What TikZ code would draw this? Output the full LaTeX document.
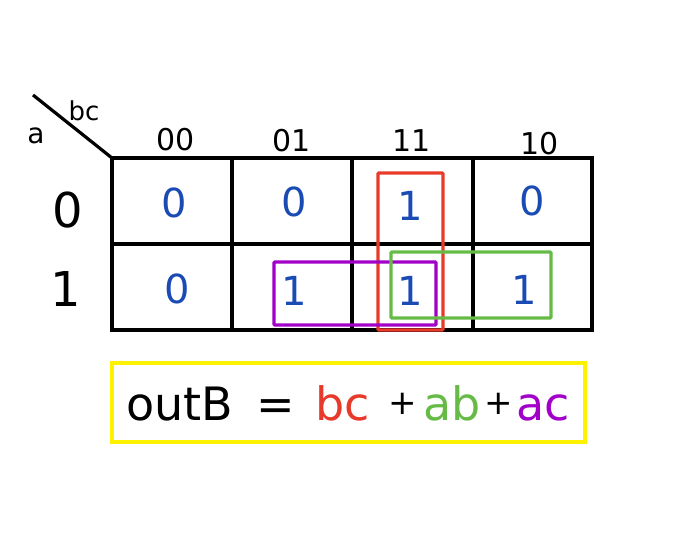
\documentclass[tikz,border=0pt]{standalone}
\usepackage{fontspec}
\setmainfont{DejaVu Sans}
\definecolor{kblue}{HTML}{1A4BB5}
\definecolor{kred}{HTML}{E83A2A}
\definecolor{kgreen}{HTML}{66BB46}
\definecolor{kpurple}{HTML}{A200C8}
\definecolor{kyellow}{HTML}{FFF200}
\begin{document}
\begin{tikzpicture}[x=1pt,y=-1pt,
  grid/.style={line width=3.6pt},
  cellval/.style={text=kblue,font=\fontsize{40}{40}\selectfont,inner sep=0pt},
  head/.style={font=\fontsize{30}{30}\selectfont,inner sep=0pt},
  rowlab/.style={font=\fontsize{48}{48}\selectfont,inner sep=0pt},
  group/.style={line width=3.4pt,rounded corners=1pt},
  eq/.style={font=\fontsize{46}{46}\selectfont,inner sep=0pt,anchor=base},
  plus/.style={font=\fontsize{34}{34}\selectfont,inner sep=0pt,anchor=base}]
\useasboundingbox (0,0) rectangle (675,538);
% grid
\draw[grid] (112,158) rectangle (592,330);
\draw[grid] (112,244) -- (592,244);
\draw[grid] (232,158) -- (232,330);
\draw[grid] (352,158) -- (352,330);
\draw[grid] (473,158) -- (473,330);
% corner
\coordinate (d0) at (33,95);
\coordinate (d1) at (112,158);
\draw[line width=3.2pt] (d0) -- (d1);
\node[font=\fontsize{26}{26}\selectfont,inner sep=0pt] (bc) at (84,111) {bc};
\node[font=\fontsize{28}{28}\selectfont,inner sep=0pt] (a) at (36,136) {a};
% headers
\node[head] (h00) at (176,140) {00};
\node[head] (h01) at (292,141) {01};
\node[head] (h11) at (412,141) {11};
\node[head] (h10) at (540,144) {10};
\node[rowlab] (r0) at (68,210) {0};
\node[rowlab] (r1) at (66,289) {1};
% cells
\node[cellval] (c00) at (174,203) {0};
\node[cellval] (c01) at (294,202) {0};
\node[cellval] (c11a) at (410,206) {1};
\node[cellval] (c10a) at (532,201) {0};
\node[cellval] (c00b) at (177,289) {0};
\node[cellval] (c01b) at (294,291) {1};
\node[cellval] (c11b) at (410,291) {1};
\node[cellval] (c10b) at (524,290) {1};
% groups
\draw[group,kred] (378,173) rectangle (443,330);
\draw[group,kpurple] (274,262) rectangle (436,325);
\draw[group,kgreen] (391,252) rectangle (551,318);
% equation
\draw[line width=3.4pt,kyellow] (112,363) rectangle (585,442);
\node[eq] (e1) at (180,420) {outB};
\node[eq] (e2) at (276,420) {=};
\node[eq,text=kred] (e3) at (343,420) {bc};
\node[plus] (e4) at (403,414) {+};
\node[eq,text=kgreen] (e5) at (452,420) {ab};
\node[plus] (e6) at (499,414) {+};
\node[eq,text=kpurple] (e7) at (543,420) {ac};
\end{tikzpicture}
\end{document}
